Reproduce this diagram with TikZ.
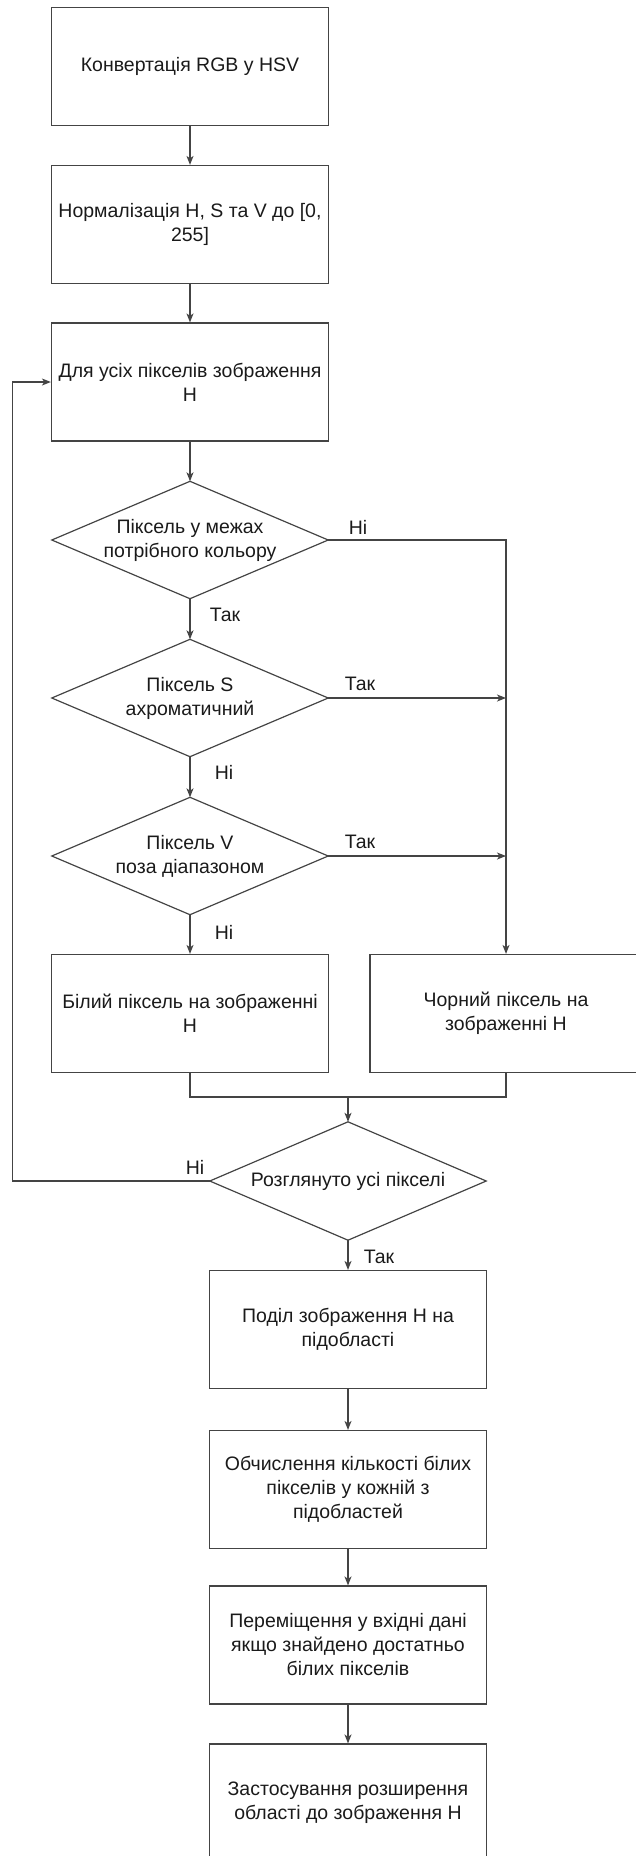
\documentclass[tikz,border=0pt]{standalone}
\usepackage{fontspec}
\setmainfont{Liberation Sans}
\usetikzlibrary{arrows.meta}

\definecolor{linegray}{HTML}{444444}
\definecolor{inkgray}{HTML}{1A1A1A}

\begin{document}
\begin{tikzpicture}[x=1pt, y=-1pt,
  every node/.style={text=inkgray, font=\fontsize{19.5}{24}\selectfont},
  procbox/.style={draw=linegray, line width=1.2pt, rectangle,
    minimum width=277pt, minimum height=118pt, inner sep=0pt, align=center},
  decision/.style={rectangle, minimum width=276pt, minimum height=117pt,
    inner sep=0pt, align=center},
  outline/.style={draw=linegray, line width=1.2pt, line join=miter},
  conn/.style={draw=linegray, line width=1.2pt},
  flow/.style={conn, -{Stealth[length=9pt, width=7pt, inset=2.5pt]}},
  lbl/.style={inner sep=0pt}
]
\useasboundingbox (0,0) rectangle (635,1856);

% left column
\node[procbox] (b1) at (190,66.5) {Конвертація RGB у HSV};
\node[procbox] (b2) at (190,224.5) {Нормалізація H, S та V до [0,\\255]};
\node[procbox] (b3) at (190,382) {Для усіх пікселів зображення\\H};
\node[decision] (d1) at (190,540) {Піксель у межах\\потрібного кольору};
\node[decision] (d2) at (190,698) {Піксель S\\ахроматичний};
\node[decision] (d3) at (190,856) {Піксель V\\поза діапазоном};
\node[procbox] (bw) at (190,1013.5) {Білий піксель на зображенні\\H};
\node[procbox, minimum width=272pt] (bb) at (506,1013.5) {Чорний піксель на\\зображенні H};

% lower column
\node[decision, minimum height=118pt] (d4) at (348,1181) {Розглянуто усі пікселі};
\node[procbox] (b5) at (348,1329.5) {Поділ зображення H на\\підобласті};
\node[procbox] (b6) at (348,1489.5) {Обчислення кількості білих\\пікселів у кожній з\\підобластей};
\node[procbox] (b7) at (348,1645) {Переміщення у вхідні дані\\якщо знайдено достатньо\\білих пікселів};
\node[procbox] (b8) at (348,1803) {Застосування розширення\\області до зображення H};

% rhombus outlines of the decision nodes
\foreach \d in {d1,d2,d3,d4}
  \draw[outline] (\d.north) -- (\d.east) -- (\d.south) -- (\d.west) -- cycle;

% straight flow
\draw[flow] (b1) -- (b2);
\draw[flow] (b2) -- (b3);
\draw[flow] (b3) -- (d1);
\draw[flow] (d1) -- (d2);
\draw[flow] (d2) -- (d3);
\draw[flow] (d3) -- (bw);
\draw[flow] (d4) -- (b5);
\draw[flow] (b5) -- (b6);
\draw[flow] (b6) -- (b7);
\draw[flow] (b7) -- (b8);

% branches to the black pixel box
\draw[flow] (d1.east) -| (bb.north);
\draw[flow] (d2.east) -- (d2.east -| bb.north);
\draw[flow] (d3.east) -- (d3.east -| bb.north);

% merge of both pixel boxes
\coordinate (m) at (348,1097);
\draw[conn] (bw.south) |- (m) -| (bb.south);
\draw[flow] (m) -- (d4.north);

% loop back over all pixels
\coordinate (lp) at (12.7,1181);
\draw[flow] (d4.west) -- (lp) |- (b3.west);

% branch labels
\node[lbl] (l1) at (358,527) {Ні};
\node[lbl] (l2) at (225,615) {Так};
\node[lbl] (l3) at (360,684) {Так};
\node[lbl] (l4) at (224,772) {Ні};
\node[lbl] (l5) at (360,842) {Так};
\node[lbl] (l6) at (224,932) {Ні};
\node[lbl] (l7) at (195,1167) {Ні};
\node[lbl] (l8) at (379,1257) {Так};
\end{tikzpicture}
\end{document}
